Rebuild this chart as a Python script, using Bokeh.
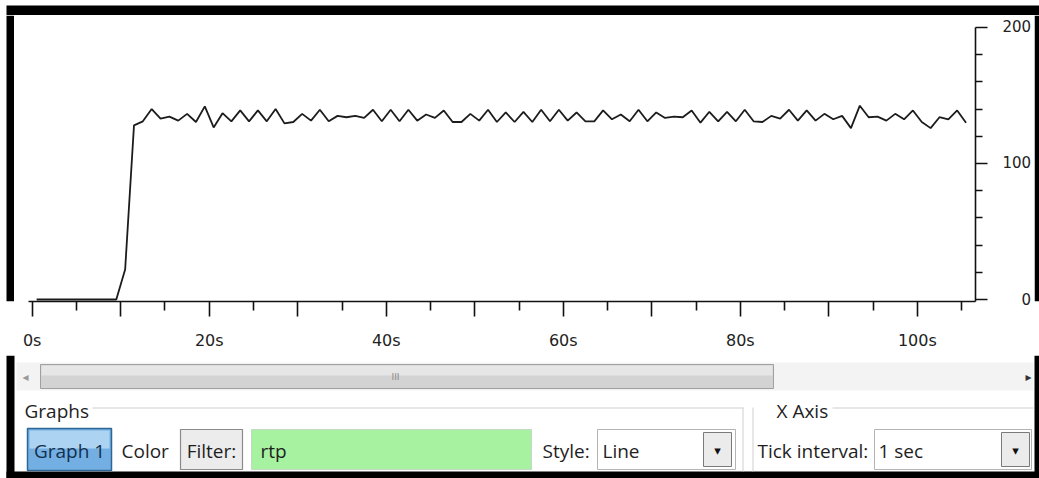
from bokeh.plotting import figure
from bokeh.layouts import column, row
from bokeh.models import ColumnDataSource, Range1d, FixedTicker, CustomJSTickFormatter
from bokeh.transform import dodge
from bokeh.core.properties import value
from bokeh.embed import file_html
from bokeh.resources import INLINE

# ---------------- data (packets per 1-second interval, filter "rtp") ----------------
interval_start = list(range(106))  # seconds
rtp_packets = [
    0, 0, 0, 0, 0, 0, 0, 0, 0, 0,
    22, 128, 131, 140, 133, 134.5, 131.5, 136.5, 130.5, 142,
    126.5, 137, 131, 139, 131, 139, 131, 140, 129.5, 130.5,
    136.5, 131.5, 139.5, 131, 135, 134, 135, 133.5, 139.5, 131,
    139.5, 131, 139.5, 131.5, 136, 133.5, 139, 130.5, 130.5, 136.5,
    131.5, 139.5, 130.5, 137.5, 130.5, 138, 130.5, 139.5, 131, 139.5,
    131.5, 137.5, 131, 131, 139, 132.5, 136, 131, 139.5, 131,
    137.5, 133.5, 134.5, 134, 139, 130, 138, 131, 138, 131,
    139.5, 131, 130.5, 135, 133, 139.5, 131.5, 139, 131.5, 136.5,
    132.5, 135, 126, 142.5, 134, 134.5, 131.5, 136.5, 132.5, 139,
    130.5, 126, 134, 132.5, 139, 130,
]
x_major_ticks = [0, 10, 20, 30, 40, 50, 60, 70, 80, 90, 100]
x_minor_ticks = [5, 15, 25, 35, 45, 55, 65, 75, 85, 95, 105]
y_major_ticks = [0, 100, 200]
y_minor_ticks = [20, 40, 60, 80, 120, 140, 160, 180]

UI_FONT = "Open Sans"


def canvas(w, h, x0, y0):
    """A figure whose frame is the whole canvas, in page-pixel units (y downwards)."""
    f = figure(width=w, height=h, output_backend="svg", toolbar_location=None,
               x_axis_type=None, y_axis_type=None,
               x_range=Range1d(x0, x0 + w), y_range=Range1d(y0 + h, y0),
               min_border_left=0, min_border_right=0, min_border_top=0, min_border_bottom=0)
    f.outline_line_color = None
    f.background_fill_color = "white"
    f.border_fill_color = "white"
    f.xgrid.visible = False
    f.ygrid.visible = False
    return f


def rect(f, l, t, r, b, fill, line=None, lw=1.0):
    f.quad(left=[l], right=[r], top=[t], bottom=[b], fill_color=fill,
           line_color=line, line_width=lw)


def label(f, x, y, s, size=19, color="#1e1e1e", align="left", font=UI_FONT):
    f.text(x=[x], y=[y], text=[s], text_font=value(font), text_font_size=f"{size}px",
           text_color=color, text_align=align, text_baseline="middle")


# ---------------- top black edge ----------------
top = canvas(1039, 15, 0, 0)
rect(top, 6, 5, 1039, 15, "black")

# ---------------- left / right black edges beside the chart ----------------
left = canvas(14, 340, 0, 15)
rect(left, 6, 15, 14, 355, "black")
right = canvas(5, 340, 1034, 15)
rect(right, 1034, 15, 1039, 355, "black")

# ---------------- the IO graph ----------------
src = ColumnDataSource(dict(interval=interval_start, rtp=rtp_packets))

p = figure(width=1020, height=340, output_backend="svg", toolbar_location=None,
           x_range=Range1d(-2.0, 106.57), y_range=Range1d(-1.47, 208.8),
           y_axis_location="right",
           min_border_left=0, min_border_right=57, min_border_top=0, min_border_bottom=54)
p.outline_line_color = None
p.background_fill_color = "white"
p.border_fill_color = "white"
p.xgrid.visible = False
p.ygrid.visible = False

p.line(x=dodge("interval", 0.5, range=p.x_range), y="rtp", source=src,
       line_color="#1c1c1c", line_width=1.8)

xa = p.xaxis[0]
xa.ticker = FixedTicker(ticks=x_major_ticks, minor_ticks=x_minor_ticks)
xa.formatter = CustomJSTickFormatter(code="return (tick % 20 == 0) ? tick + 's' : '';")
xa.bounds = (-0.45, 106.57)
ya = p.yaxis[0]
ya.ticker = FixedTicker(ticks=y_major_ticks, minor_ticks=y_minor_ticks)
# right-aligned labels (padded with figure spaces, which are digit-wide)
ya.formatter = CustomJSTickFormatter(
    code="var s = String(tick); while (s.length < 3) { s = '\u2007' + s; } return s;")
ya.bounds = (-1.47, 200)

for ax in (xa, ya):
    ax.axis_line_color = "#111111"
    ax.axis_line_width = 1.6
    ax.major_tick_line_color = "#111111"
    ax.minor_tick_line_color = "#111111"
    ax.major_tick_line_width = 1.6
    ax.minor_tick_line_width = 1.6
    ax.major_tick_in = 0
    ax.minor_tick_in = 0
    ax.major_label_text_font = "DejaVu Sans"
    ax.major_label_text_color = "#222222"
xa.major_tick_out = 15
xa.minor_tick_out = 9
xa.major_label_standoff = 14
xa.major_label_text_font_size = "16px"
ya.major_tick_out = 12
ya.minor_tick_out = 7
ya.major_label_standoff = 15
ya.major_label_text_font_size = "15px"

# ---------------- bottom control panel ----------------
ui = canvas(1039, 123, 0, 355)
rect(ui, 6, 355, 14, 478, "black")
rect(ui, 6, 471, 1039, 478, "black")
rect(ui, 1034, 355, 1039, 478, "black")

# scrollbar
rect(ui, 16, 362, 1033, 390, "#f3f3f3")
rect(ui, 40, 364, 773, 388, "#d3d3d3", line="#a0a0a0", lw=1)
rect(ui, 41, 365, 772, 375, "#e6e6e6")
label(ui, 25, 376, "◂", size=12, color="#9a9a9a", align="center", font="DejaVu Sans")
label(ui, 1028, 376, "▸", size=12, color="#333333", align="center", font="DejaVu Sans")
label(ui, 395, 376, "III", size=9, color="#8a8a8a", align="center", font="DejaVu Sans")

# group boxes
label(ui, 24, 410, "Graphs")
rect(ui, 92, 407, 743, 408, "#cfcfcf")
rect(ui, 742, 407, 743, 471, "#cfcfcf")
label(ui, 776, 410, "X Axis")
rect(ui, 832, 407, 1033, 408, "#cfcfcf")
rect(ui, 752, 407, 753, 471, "#cfcfcf")

# Graph 1 toggle button
rect(ui, 27, 428, 111, 470, "#74afe3", line="#2f6794", lw=1.5)
rect(ui, 29, 430, 109, 448, "#acd3f2")
label(ui, 69, 450, "Graph 1", color="#12304d", align="center")
label(ui, 121, 450, "Color")
# Filter button + field
rect(ui, 180, 429, 242, 469, "#ececec", line="#8a8a8a", lw=1.2)
label(ui, 211, 450, "Filter:", align="center")
rect(ui, 251, 429, 531, 469, "#a7f2a1", line="#c4d9c4", lw=1)
label(ui, 260, 450, "rtp")
# Style combo
label(ui, 542, 450, "Style:")
rect(ui, 597, 429, 735, 469, "white", line="#b4b4b4", lw=1)
label(ui, 602, 450, "Line")
rect(ui, 703, 432, 731, 466, "#ebebeb", line="#7a7a7a", lw=1)
label(ui, 717, 450, "▾", size=13, color="#111111", align="center", font="DejaVu Sans")
# Tick interval combo
label(ui, 757, 450, "Tick interval:")
rect(ui, 874, 429, 1031, 469, "white", line="#b4b4b4", lw=1)
label(ui, 878, 450, "1 sec")
rect(ui, 1001, 432, 1029, 466, "#ebebeb", line="#7a7a7a", lw=1)
label(ui, 1015, 450, "▾", size=13, color="#111111", align="center", font="DejaVu Sans")

layout = column(top, row(left, p, right), ui)
open("out.html", "w").write(file_html(layout, INLINE))
